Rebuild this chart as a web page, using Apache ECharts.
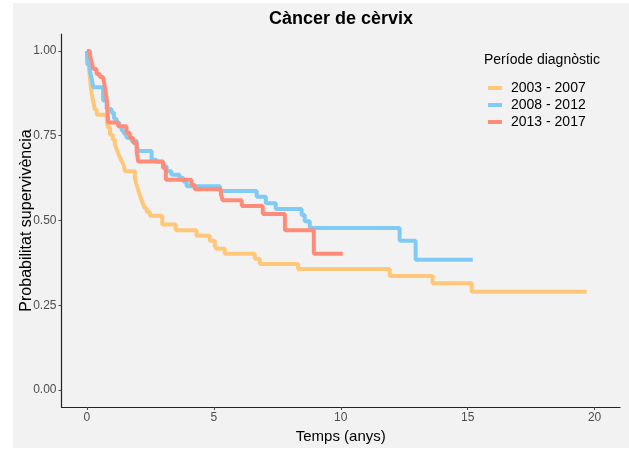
<!DOCTYPE html>
<html>
<head>
<meta charset="utf-8">
<script src="https://cdn.jsdelivr.net/npm/echarts@6/dist/echarts.min.js"></script>
<style>
  html, body { margin: 0; padding: 0; background: #ffffff; }
  #main { position: absolute; left: 13px; top: 3px; width: 616px; height: 445px; }
</style>
</head>
<body>
<div id="main"></div>
<script>
// Kaplan-Meier: temps (anys) i supervivència per període
const periods = ["2003 - 2007", "2008 - 2012", "2013 - 2017"];
const colors = ["#FFC878", "#7FCBF3", "#FF8C78"];

const t2003 = [0, 0.04, 0.08, 0.12, 0.16, 0.20, 0.24, 0.28, 0.31, 0.39,
  0.79, 0.83, 0.91, 1.02, 1.10, 1.17, 1.23, 1.30, 1.37, 1.44,
  1.50, 1.89, 1.95, 2.02, 2.09, 2.15, 2.22, 2.28, 2.36, 2.48,
  2.97, 3.50, 4.32, 4.84, 5.04, 5.10, 5.43, 6.61, 6.81, 8.32,
  11.93, 13.62, 15.16, 19.69];
const s2003 = [1.0, 0.98, 0.95, 0.92, 0.89, 0.87, 0.855, 0.84, 0.827, 0.812,
  0.79, 0.774, 0.753, 0.738, 0.724, 0.711, 0.699, 0.687, 0.675, 0.665,
  0.645, 0.625, 0.607, 0.590, 0.575, 0.560, 0.548, 0.536, 0.525, 0.514,
  0.488, 0.471, 0.455, 0.440, 0.426, 0.417, 0.402, 0.387, 0.372, 0.357,
  0.336, 0.315, 0.290, 0.290];

const t2008 = [0, 0.02, 0.12, 0.19, 0.25, 0.64, 0.78, 0.97, 1.07, 1.17,
  1.27, 1.37, 1.47, 1.56, 1.76, 1.96, 2.02, 2.55, 2.74, 3.00,
  3.14, 3.33, 3.65, 3.80, 3.93, 5.24, 6.69, 7.05, 7.44, 8.46,
  8.58, 8.78, 12.32, 12.95, 15.20];
const s2008 = [1.0, 0.96, 0.94, 0.918, 0.893, 0.854, 0.829, 0.818, 0.80, 0.789,
  0.777, 0.765, 0.755, 0.744, 0.735, 0.720, 0.705, 0.679, 0.673, 0.66,
  0.645, 0.635, 0.625, 0.615, 0.601, 0.587, 0.570, 0.551, 0.534, 0.516,
  0.498, 0.478, 0.440, 0.384, 0.384];

const t2013 = [0, 0.12, 0.19, 0.25, 0.38, 0.51, 0.64, 0.71, 0.78, 0.81,
  0.84, 1.23, 1.56, 1.69, 1.82, 1.96, 2.02, 3.00, 3.11, 4.12,
  4.25, 5.28, 5.35, 6.10, 6.93, 7.80, 8.94, 10.08];
const s2013 = [1.0, 0.987, 0.967, 0.947, 0.932, 0.923, 0.918, 0.893, 0.858, 0.823,
  0.789, 0.778, 0.759, 0.744, 0.729, 0.705, 0.674, 0.655, 0.620, 0.605,
  0.592, 0.577, 0.560, 0.543, 0.519, 0.471, 0.402, 0.402];

const xTicks = [0, 5, 10, 15, 20];
const yTicks = [0, 0.25, 0.5, 0.75, 1];

function pairs(t, s) {
  return t.map((v, i) => [v, s[i]]);
}

const chart = echarts.init(document.getElementById("main"));
const option = {
  backgroundColor: "#F2F2F2",
  animation: false,
  textStyle: { fontFamily: "Liberation Sans, Arial, sans-serif" },
  graphic: [
    {
      type: "text", x: 328, y: 16,
      style: { text: "Càncer de cèrvix", fontSize: 18, fontWeight: "bold", fill: "#000",
        align: "center", verticalAlign: "middle", fontFamily: "Liberation Sans" }
    },
    {
      type: "text", x: 471, y: 57,
      style: { text: "Període diagnòstic", fontSize: 14, fill: "#000",
        align: "left", verticalAlign: "middle", fontFamily: "Liberation Sans" }
    }
  ],
  legend: {
    data: periods,
    orient: "vertical",
    left: 470,
    top: 73,
    itemWidth: 14,
    itemHeight: 4,
    itemGap: 3,
    icon: "rect",
    textStyle: { fontSize: 14, color: "#000", padding: [0, 0, 0, 4] }
  },
  grid: { left: 48.5, right: 9, top: 31, bottom: 41, containLabel: false, outerBoundsMode: "none" },
  xAxis: {
    type: "value",
    min: -1,
    max: 21,
    name: "Temps (anys)",
    nameLocation: "middle",
    nameGap: 22,
    nameMoveOverlap: false,
    nameTextStyle: { fontSize: 15, color: "#000" },
    axisLine: { onZero: false, lineStyle: { color: "#222", width: 1.2 } },
    axisTick: { customValues: xTicks, length: 3, lineStyle: { color: "#444" } },
    axisLabel: { customValues: xTicks, color: "#4D4D4D", fontSize: 12, margin: 5 },
    splitLine: { show: false }
  },
  yAxis: {
    type: "value",
    min: -0.05,
    max: 1.05,
    name: "Probabilitat supervivència",
    nameLocation: "middle",
    nameGap: 27,
    nameMoveOverlap: false,
    nameTextStyle: { fontSize: 16, color: "#000" },
    axisLine: { show: true, onZero: false, lineStyle: { color: "#222", width: 1.2 } },
    axisTick: { show: true, customValues: yTicks, length: 3, lineStyle: { color: "#444" } },
    axisLabel: {
      customValues: yTicks, color: "#4D4D4D", fontSize: 12, margin: 5,
      formatter: (v) => v.toFixed(2)
    },
    splitLine: { show: false }
  },
  series: [
    { name: periods[0], data: pairs(t2003, s2003) },
    { name: periods[1], data: pairs(t2008, s2008) },
    { name: periods[2], data: pairs(t2013, s2013) }
  ].map((s, i) => ({
    ...s,
    type: "line",
    step: "end",
    showSymbol: false,
    symbol: "none",
    color: colors[i],
    lineStyle: { width: 4, color: colors[i] }
  }))
};
chart.setOption(option);
</script>
</body>
</html>
